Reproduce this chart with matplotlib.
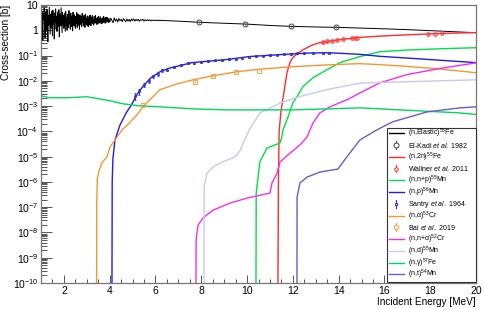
import matplotlib

matplotlib.use("Agg")

import matplotlib.pyplot as plt
import numpy as np
from matplotlib.patches import Rectangle
from matplotlib.ticker import FixedLocator, LogLocator, MultipleLocator, NullFormatter

plt.rcParams["font.family"] = ["Liberation Sans", "DejaVu Sans"]
plt.rcParams["mathtext.fontset"] = "custom"
plt.rcParams["mathtext.rm"] = "Liberation Sans"
plt.rcParams["mathtext.it"] = "Liberation Sans:italic"
plt.rcParams["mathtext.bf"] = "Liberation Sans:bold"

# ---- (n,Elastic) 56Fe : resonance region (hand read), then smooth part ----
elastic_res_fine = [
    # 1.0 - 2.0 MeV
    3.2, 0.8, 5.8, 1.9, 0.4, 4.6, 2.6, 7.5, 1.3, 0.5, 5.1, 2.9, 1.0, 6.8, 2.2, 0.35, 3.9, 1.6, 8.2, 2.4,
    0.7, 4.3, 1.2, 5.6, 3.1, 0.6, 6.2, 1.8, 3.4, 0.45, 4.9, 2.0, 7.0, 1.1, 3.6, 0.9, 5.3, 2.7, 1.4, 6.5,
    0.55, 3.0, 4.4, 1.5, 7.8, 2.3, 0.8, 5.0, 1.7, 3.8,
    # 2.0 - 3.0 MeV
    1.2, 4.7, 2.1, 0.9, 5.5, 1.6, 3.3, 1.0, 4.2, 2.5, 1.3, 6.0, 1.8, 3.0, 1.1, 4.8, 2.2, 1.4, 3.7, 0.95,
    5.2, 2.0, 1.5, 4.1, 2.6, 1.2, 3.5, 1.9, 5.0, 1.3, 2.8, 4.4, 1.6, 3.2, 1.1, 4.0, 2.3, 1.7, 3.6, 1.4,
    4.6, 2.0, 3.1, 1.5, 3.9, 2.4, 1.3, 4.3, 1.9, 3.0,
    # 3.0 - 4.0 MeV
    1.6, 3.7, 2.1, 1.4, 3.4, 2.6, 1.7, 4.0, 2.2, 1.5, 3.2, 2.0, 3.8, 1.8, 2.7, 1.6, 3.5, 2.3, 1.9, 3.9,
    2.0, 2.9, 1.7, 3.3, 2.4, 1.8, 3.6, 2.1, 3.0, 1.9, 3.4, 2.2, 2.8, 1.8, 3.1, 2.5, 2.0, 3.5, 2.2, 2.9,
    1.9, 3.2, 2.4, 2.1, 3.3, 2.3, 2.8, 2.0, 3.0, 2.4,
]
elastic_res_coarse = [
    # 4.0 - 6.45 MeV
    2.1, 3.0, 2.4, 2.0, 3.1, 2.3, 2.8, 2.1, 2.9, 2.4, 2.7, 2.2, 2.9, 2.5, 2.2, 2.8, 2.3, 2.7, 2.2, 2.8,
    2.4, 2.8, 2.3, 2.7, 2.4, 2.7, 2.3, 2.6, 2.5, 2.7, 2.3, 2.6, 2.4, 2.6, 2.4, 2.6, 2.35, 2.55, 2.4, 2.5,
    2.5, 2.4, 2.55, 2.4, 2.5, 2.4, 2.5, 2.4, 2.45, 2.4,
]
elastic_fine_energy = np.linspace(1.0, 3.98, len(elastic_res_fine))
elastic_coarse_energy = np.linspace(4.0, 6.45, len(elastic_res_coarse))
elastic_energy = [6.5, 7, 8, 9, 10, 11, 12, 13, 14, 15, 16, 17, 18, 19, 20]
elastic_sigma = [2.4, 2.3, 2.05, 1.9, 1.75, 1.55, 1.42, 1.35, 1.3, 1.22, 1.14, 1.06, 0.97, 0.88, 0.8]

elkadi_energy = [7.9, 9.9, 11.9, 13.9]
elkadi_sigma = [2.05, 1.75, 1.45, 1.35]
elkadi_err = [0.12, 0.1, 0.08, 0.08]

# ---- (n,2n) 55Fe ----
n2n_energy = [11.35, 11.37, 11.40, 11.48, 11.56, 11.65, 11.75, 11.88, 12.0, 12.2, 12.45,
              12.8, 13.1, 13.5, 14.0, 15.0, 16.0, 17.0, 18.0, 19.0, 20.0]
n2n_sigma = [1e-10, 1e-6, 1e-4, 6e-4, 1.8e-3, 6e-3, 2.2e-2, 5.5e-2, 8.3e-2, 0.12, 0.17,
             0.25, 0.31, 0.36, 0.42, 0.53, 0.60, 0.66, 0.72, 0.77, 0.81]

wallner_energy = [13.3, 13.5, 13.7, 13.95, 14.2, 14.6, 14.7, 14.8, 17.9, 18.2, 18.5]
wallner_sigma = [0.33, 0.36, 0.39, 0.41, 0.44, 0.49, 0.5, 0.51, 0.72, 0.74, 0.75]
wallner_err = [0.04, 0.04, 0.04, 0.04, 0.04, 0.03, 0.03, 0.03, 0.05, 0.05, 0.05]

# ---- (n,n+p) 55Mn ----
nnp_energy = [10.39, 10.40, 10.56, 10.87, 11.44, 11.52, 11.57, 11.79, 12.0, 12.18,
              12.44, 12.88, 13.49, 14.06, 14.93, 15.8, 17.0, 18.5, 20.0]
nnp_log = [-10, -6.44, -5.21, -4.66, -4.46, -4.22, -3.94, -3.43, -2.87, -2.63,
           -2.23, -1.88, -1.56, -1.28, -1.04, -0.85, -0.78, -0.73, -0.69]

# ---- (n,p) 56Mn ----
np_energy = [4.10, 4.11, 4.14, 4.23, 4.45, 4.72, 4.95, 5.19, 5.45, 5.8, 6.2, 6.6,
             7.6, 9.1, 10.1, 11.5, 12.7, 13.6, 14.9, 15.8, 17.0, 18.5, 20.0]
np_log = [-10, -6, -5.1, -4.34, -3.75, -3.27, -2.95, -2.55, -2.22, -1.88, -1.64, -1.5,
          -1.28, -1.16, -1.04, -0.96, -0.9, -0.89, -0.95, -1.03, -1.1, -1.19, -1.28]

santry_energy = [5.1, 5.3, 5.5, 5.7, 5.9, 6.1, 6.3, 6.5, 6.8, 7.1, 7.4, 7.7, 8.0, 8.3, 8.6, 8.9,
                 9.2, 9.5, 9.8, 10.1, 10.4, 10.7, 11.0, 11.3, 11.6, 11.9, 12.2, 12.5, 12.9, 13.3, 13.6]
santry_sigma = [2.6e-3, 3.8e-3, 7.0e-3, 0.010, 0.015, 0.019, 0.026, 0.028, 0.036, 0.041, 0.049,
                0.052, 0.058, 0.059, 0.064, 0.066, 0.071, 0.074, 0.081, 0.088, 0.096, 0.099,
                0.106, 0.108, 0.112, 0.114, 0.121, 0.123, 0.127, 0.126, 0.128]
santry_err = [8e-4, 1e-3, 1.5e-3, 2e-3, 2.5e-3, 3e-3, 3.5e-3, 3.5e-3, 4e-3, 4e-3, 4.5e-3,
              4.5e-3, 5e-3, 5e-3, 5e-3, 5e-3, 5.5e-3, 5.5e-3, 6e-3, 6e-3, 6.5e-3, 6.5e-3,
              7e-3, 7e-3, 7e-3, 7e-3, 7.5e-3, 7.5e-3, 8e-3, 8e-3, 8e-3]

# ---- (n,alpha) 53Cr ----
na_energy = [3.43, 3.435, 3.46, 3.52, 3.66, 3.88, 4.01, 4.23, 4.54, 4.8, 5.19, 5.45, 5.89,
             6.2, 6.94, 7.64, 8.51, 9.56, 10.56, 12.0, 13.5, 14.9, 15.8, 17.0, 18.5, 20.0]
na_log = [-10, -6.84, -5.9, -5.6, -5.25, -5.01, -4.62, -4.34, -3.94, -3.72, -3.35, -3.03, -2.63,
          -2.35, -2.12, -1.96, -1.80, -1.64, -1.54, -1.44, -1.37, -1.32, -1.36, -1.43, -1.54, -1.68]

bai_energy = [5.45, 7.72, 8.51, 9.52, 10.52]
bai_sigma = [1.12e-3, 9.1e-3, 0.0158, 0.023, 0.025]
bai_err = [1e-4, 8e-4, 1.2e-3, 1.5e-3, 1.5e-3]

# ---- (n,n+alpha) 52Cr ----
nna_energy = [7.77, 7.775, 7.86, 8.07, 8.51, 9.25, 10.0, 11.0, 11.09, 11.31, 11.44, 11.79,
              12.31, 12.62, 12.75, 12.88, 13.18, 13.62, 14.36, 14.93, 15.8, 17.0, 18.5, 20.0]
nna_log = [-10, -8.3, -7.71, -7.43, -7.12, -6.84, -6.64, -6.44, -6.04, -5.65, -5.21, -4.93,
           -4.54, -4.22, -3.94, -3.67, -3.27, -3.03, -2.75, -2.48, -2.08, -1.75, -1.5, -1.29]

# ---- (n,d) 55Mn ----
nd_energy = [8.12, 8.125, 8.25, 8.51, 8.82, 9.38, 9.56, 9.7, 9.83, 10.1, 10.56, 11.44,
             12.31, 13.48, 14.93, 17.24, 20.0]
nd_log = [-10, -6.2, -5.65, -5.41, -5.25, -5.05, -4.93, -4.75, -4.47, -3.94, -3.27, -2.88,
          -2.62, -2.35, -2.09, -2.03, -1.96]

# ---- (n,gamma) 57Fe ----
ng_energy = [1.0, 1.39, 2.14, 3.0, 3.27, 4.01, 4.58, 5.32, 6.2, 7.64, 9.12, 12.0, 14.93, 19.3, 20.0]
ng_log = [-2.59, -2.67, -2.67, -2.63, -2.67, -2.79, -2.91, -2.99, -3.03, -3.11, -3.15,
          -3.15, -3.07, -3.27, -3.33]

# ---- (n,t) 54Mn ----
nt_energy = [12.18, 12.185, 12.31, 12.62, 13.18, 13.97, 14.36, 14.93, 15.67, 16.37, 17.86, 19.3, 20.0]
nt_log = [-10, -6.6, -6.04, -5.81, -5.61, -5.49, -5.01, -4.34, -3.94, -3.62, -3.23, -3.07, -3.03]


def pow10(values):
    return [10.0 ** v for v in values]


fig = plt.figure(figsize=(4.84, 3.09), dpi=100)
ax = fig.add_axes([41 / 484, 26 / 309, 435 / 484, 278 / 309])

lw = 1.0
el_x = list(elastic_fine_energy) + list(elastic_coarse_energy) + elastic_energy
el_y = elastic_res_fine + elastic_res_coarse + elastic_sigma
ax.plot(el_x, el_y, color="black", lw=0.7)
ax.errorbar(elkadi_energy, elkadi_sigma, yerr=elkadi_err, fmt="o", ms=3.5,
            mfc="none", mec="#555555", ecolor="#555555", elinewidth=0.8, mew=0.8)
ax.plot(n2n_energy, n2n_sigma, color="#ff2a2a", lw=lw)
ax.errorbar(wallner_energy, wallner_sigma, yerr=wallner_err, fmt="o", ms=2.5,
            mfc="none", mec="#ff4040", ecolor="#ff4040", elinewidth=0.8, mew=0.8)
ax.plot(nnp_energy, pow10(nnp_log), color="#00e040", lw=lw)
ax.plot(np_energy, pow10(np_log), color="#1e1ee6", lw=lw)
ax.errorbar(santry_energy, santry_sigma, yerr=santry_err, fmt="o", ms=1.6,
            mfc="none", mec="#3030d0", ecolor="#3030d0", elinewidth=0.6, mew=0.6, capsize=1)
ax.plot(na_energy, pow10(na_log), color="#f8962e", lw=lw)
ax.errorbar(bai_energy, bai_sigma, yerr=bai_err, fmt="s", ms=3.2,
            mfc="none", mec="#f8a050", ecolor="#f8a050", elinewidth=0.7, mew=0.7)
ax.plot(nna_energy, pow10(nna_log), color="#f030e8", lw=lw)
ax.plot(nd_energy, pow10(nd_log), color="#c8c8f4", lw=lw)
ax.plot(ng_energy, pow10(ng_log), color="#00d85a", lw=lw)
ax.plot(nt_energy, pow10(nt_log), color="#6a5cc8", lw=lw)

ax.set_yscale("log")
ax.set_xlim(1, 20)
ax.set_ylim(1e-10, 10)

ax.xaxis.set_major_locator(MultipleLocator(2))
ax.xaxis.set_minor_locator(MultipleLocator(0.5))
decades = list(range(-10, 2))
ax.yaxis.set_major_locator(FixedLocator([10.0 ** k for k in decades]))
ylabels = []
for k in decades:
    if k == 0:
        ylabels.append("1")
    elif k == 1:
        ylabels.append("10")
    else:
        ylabels.append(r"$10^{%d}$" % k)
ax.set_yticklabels(ylabels)
ax.yaxis.set_minor_locator(LogLocator(base=10, subs=np.arange(2, 10), numticks=20))
ax.yaxis.set_minor_formatter(NullFormatter())

ax.tick_params(axis="both", which="both", direction="in", colors="#555555",
               labelcolor="black", labelsize=7.5, width=0.7)
ax.tick_params(axis="x", which="major", length=5.5, pad=2)
ax.tick_params(axis="x", which="minor", length=2.8)
ax.tick_params(axis="y", which="major", length=8, pad=2)
ax.tick_params(axis="y", which="minor", length=4)
ax.tick_params(top=False, right=False)

for side in ax.spines.values():
    side.set_color("#777777")
    side.set_linewidth(0.9)

ax.set_xlabel("Incident Energy [MeV]", loc="right", fontsize=7.2, labelpad=1)
ax.set_ylabel("Cross-section [b]", loc="top", fontsize=7.2, labelpad=1)

# ---- legend box (ROOT TLegend style, evenly spaced rows) ----
legend_labels = [
    r"(n,Elastic)$^{56}$Fe",
    r"El-Kadi $\it{et\ al.}$ 1982",
    r"(n,2n)$^{55}$Fe",
    r"Wallner $\it{et\ al.}$ 2011",
    r"(n,n+p)$^{55}$Mn",
    r"(n,p)$^{56}$Mn",
    r"Santry $\it{et\ al.}$ 1964",
    r"(n,α)$^{53}$Cr",
    r"Bai $\it{et\ al.}$ 2019",
    r"(n,n+α)$^{52}$Cr",
    r"(n,d)$^{55}$Mn",
    r"(n,γ)$^{57}$Fe",
    r"(n,t)$^{54}$Mn",
]
legend_styles = [
    ("line", "black"),
    ("point", "#555555", "o", 3.5),
    ("line", "#ff2a2a"),
    ("point", "#ff4040", "o", 2.5),
    ("line", "#00e040"),
    ("line", "#1e1ee6"),
    ("point", "#3030d0", "o", 1.6),
    ("line", "#f8962e"),
    ("point", "#f8a050", "o", 3.2),
    ("line", "#f030e8"),
    ("line", "#c8c8f4"),
    ("line", "#00d85a"),
    ("line", "#6a5cc8"),
]

box_left, box_bottom, box_top = 0.7954, 0.003, 0.5576
row_top, row_step = 0.5385, 0.04227
handle_x0, handle_x1, text_x = 0.800, 0.834, 0.8437
baseline_drop = 0.009

ax.add_patch(Rectangle((box_left, box_bottom), 1.0 - box_left, box_top - box_bottom,
                       transform=ax.transAxes, facecolor="white", edgecolor="#333333",
                       linewidth=0.8, zorder=5, clip_on=False))
for i, (label, style) in enumerate(zip(legend_labels, legend_styles)):
    y = row_top - i * row_step
    if style[0] == "line":
        ax.plot([handle_x0, handle_x1], [y, y], transform=ax.transAxes, color=style[1],
                lw=1.0, zorder=6, clip_on=False)
    else:
        xm = 0.5 * (handle_x0 + handle_x1)
        ax.plot([xm, xm], [y - 0.014, y + 0.014], transform=ax.transAxes, color=style[1],
                lw=0.8, zorder=6, clip_on=False)
        ax.plot([xm], [y], transform=ax.transAxes, marker=style[2], ms=style[3],
                mfc="white", mec=style[1], mew=0.8, zorder=7, clip_on=False)
    ax.text(text_x, y - baseline_drop, label, transform=ax.transAxes, fontsize=5.0,
            va="baseline", ha="left", zorder=7)

fig.savefig("out.png", dpi=100)
